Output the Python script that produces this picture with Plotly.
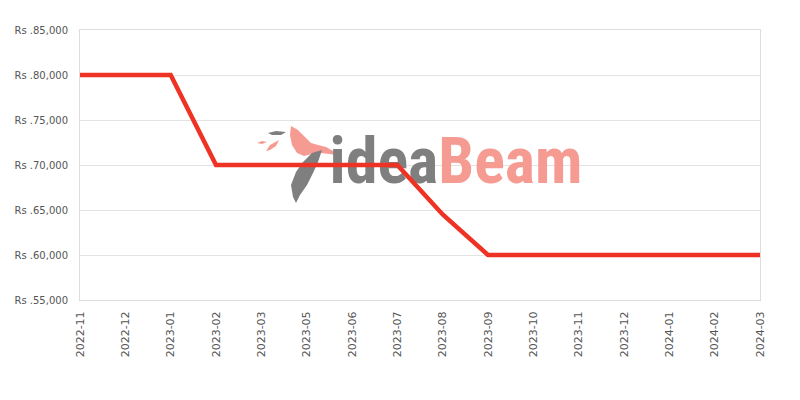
import plotly.graph_objects as go

months = ["2022-11", "2022-12", "2023-01", "2023-02", "2023-03", "2023-05",
          "2023-06", "2023-07", "2023-08", "2023-09", "2023-10", "2023-11",
          "2023-12", "2024-01", "2024-02", "2024-03"]
prices = [80000, 80000, 80000, 70000, 70000, 70000, 70000, 70000, 64500,
          60000, 60000, 60000, 60000, 60000, 60000, 60000]
y_ticks = [55000, 60000, 65000, 70000, 75000, 80000, 85000]
y_tick_labels = ["Rs .55,000", "Rs .60,000", "Rs .65,000", "Rs .70,000",
                 "Rs .75,000", "Rs .80,000", "Rs .85,000"]

# plot area geometry in window pixels (used only to place the watermark)
L, R, T, B = 80, 760, 30, 300
n = len(months) - 1
ymin, ymax = 55000, 85000


def px_x(p):
    return (p - L) / (R - L) * n


def px_y(p):
    return ymax - (p - T) / (B - T) * (ymax - ymin)


def path(points):
    return "M " + " L ".join(f"{px_x(a):.4f},{px_y(b):.2f}" for a, b in points) + " Z"


fig = go.Figure()

# watermark text (drawn first so the price line is on top)
fig.add_trace(go.Scatter(
    x=[px_x(456)], y=[px_y(167)], mode="text",
    text=["<span style='color:#7f7f7f'>idea</span><span style='color:#f59b92'>Beam</span>"],
    textposition="middle center",
    textfont=dict(family="Liberation Sans Narrow, Roboto Condensed, Arial Narrow, sans-serif",
                  size=64, color="#7f7f7f", weight="bold"),
    hoverinfo="skip", showlegend=False, cliponaxis=False,
))

fig.add_trace(go.Scatter(
    x=list(range(len(months))), y=prices, mode="lines",
    line=dict(color="#ee3224", width=4.5),
    hoverinfo="skip", showlegend=False,
))

shapes = []
pink = "#f59b92"
gray = "#7f7f7f"
bird_body = [(291, 126), (298, 130), (305, 137), (311, 143), (318, 145), (326, 147),
             (333, 151), (340, 156), (330, 154), (320, 153), (312, 154), (304, 156),
             (297, 153), (292, 145), (290, 135)]
feather = [(322, 150), (312, 153), (303, 162), (296, 172), (291, 185), (293, 197),
           (296, 203), (300, 195), (307, 185), (313, 173), (318, 162)]
small1 = [(268, 133), (276, 131), (286, 132), (281, 135), (272, 135)]
small2 = [(257, 143), (262, 141), (267, 142), (262, 144)]
small3 = [(266, 151), (270, 145), (279, 140), (276, 146), (270, 150)]
for pts, col in [(bird_body, pink), (feather, gray), (small1, gray), (small2, pink), (small3, pink)]:
    shapes.append(dict(type="path", path=path(pts), xref="x", yref="y",
                       fillcolor=col, line=dict(width=0), layer="below"))

# the page body has an 8px margin, so the figure is shifted by 8px
fig.update_layout(
    width=792, height=392,
    margin=dict(l=72, r=40, t=22, b=100),
    paper_bgcolor="white", plot_bgcolor="white",
    shapes=shapes,
    font=dict(family="DejaVu Sans, Verdana, sans-serif", size=10, color="#555555"),
)
fig.update_xaxes(
    type="linear", range=[0, n], tickmode="array",
    tickvals=list(range(len(months))), ticktext=months,
    tickangle=-90, showgrid=False, zeroline=False,
    showline=True, linecolor="#dddddd", linewidth=1, mirror=True,
    ticks="", ticklabelstandoff=6, automargin=False,
    tickfont=dict(size=11, color="#555555"),
)
fig.update_yaxes(
    range=[ymin, ymax], tickmode="array", tickvals=y_ticks, ticktext=y_tick_labels,
    showgrid=True, gridcolor="#e3e3e3", gridwidth=1, zeroline=False,
    showline=True, linecolor="#dddddd", linewidth=1, mirror=True,
    ticks="", ticklabelstandoff=9, automargin=False,
    tickfont=dict(size=10, color="#555555"),
)

fig.write_html("out.html")
